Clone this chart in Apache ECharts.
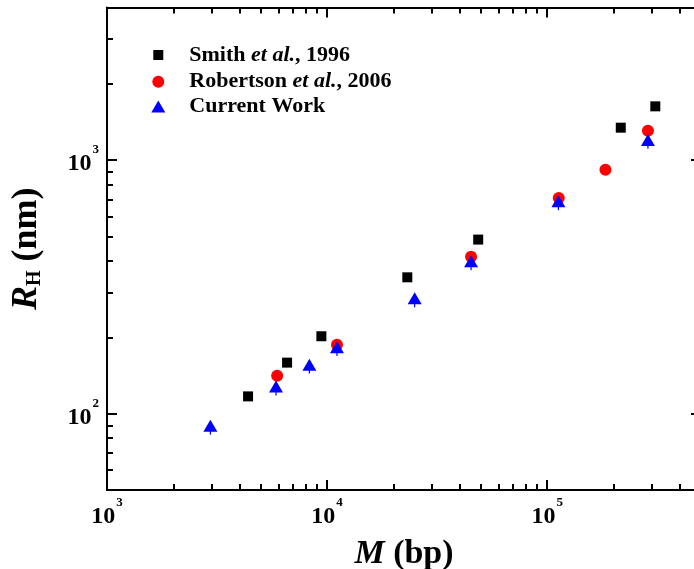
<!DOCTYPE html>
<html><head><meta charset="utf-8">
<script src="https://cdn.jsdelivr.net/npm/echarts@6/dist/echarts.min.js"></script>
<style>html,body{margin:0;padding:0;background:#fff}#c{width:694px;height:569px}</style>
</head><body><div id="c"></div>
<script>
// ---- data ----
const smithM = [4375, 6580, 9420, 23150, 48600, 216000, 310000];
const smithR = [117, 159, 202, 345, 486, 1343, 1630];
const robM = [5930, 11090, 45100, 112900, 184000, 287000];
const robR = [141, 187, 416, 709, 917, 1307];
const curM = [2950, 5860, 8310, 11090, 25000, 45100, 112500, 287000];
const curR = [89.7, 128, 156, 183, 285, 399, 688, 1201];
const curErr = [7, 10, 12, 14, 22, 31, 53, 93];
const seriesNames = ['Smith et al., 1996', 'Robertson et al., 2006', 'Current Work'];
const legendLabels = ['{b|Smith }{i|et al.}{b|, 1996}', '{b|Robertson }{i|et al.}{b|, 2006}', '{b|Current Work}'];
const xRange = [1000, 500000];
const yRange = [50, 4000];
const xMinorTicks = [2000,3000,4000,5000,6000,7000,8000,9000,20000,30000,40000,50000,60000,70000,80000,90000,200000,300000,400000];
const yMinorTicks = [60,70,80,90,200,300,400,500,600,700,800,900,2000,3000];

const FF = "'Liberation Serif','Times New Roman',serif";
const chart = echarts.init(document.getElementById('c'), null, {renderer: 'canvas'});

function pow10Label(v) {
  const e = Math.log10(v);
  if (Math.abs(e - Math.round(e)) > 1e-6) return '';
  return '{b|10}{s|' + Math.round(e) + '}';
}
const labelRich = {
  b: {fontFamily: FF, fontWeight: 'bold', fontSize: 24, lineHeight: 24, color: '#000', verticalAlign: 'bottom'},
  s: {fontFamily: FF, fontWeight: 'bold', fontSize: 13, lineHeight: 13, color: '#000', verticalAlign: 'bottom', padding: [0, 0, 20, 1]}
};
const lineSt = {color: '#000', width: 2};

function majorAxis(pos, labelOpt, extra) {
  return Object.assign({
    type: 'log', logBase: 10, position: pos,
    axisLine: {show: true, onZero: false, lineStyle: lineSt},
    axisTick: {show: true, inside: true, length: 10, lineStyle: lineSt},
    minorTick: {show: false},
    splitLine: {show: false},
    axisLabel: Object.assign({show: !!labelOpt, formatter: pow10Label, rich: labelRich, showMinLabel: true, showMaxLabel: true, hideOverlap: false}, labelOpt || {})
  }, extra);
}
function minorAxis(pos, range, ticks) {
  return {
    type: 'value', position: pos, min: Math.log10(range[0]), max: Math.log10(range[1]),
    axisLine: {show: false, onZero: false},
    axisTick: {show: true, inside: true, length: 6, lineStyle: lineSt, customValues: ticks.map(Math.log10)},
    axisLabel: {show: false}, splitLine: {show: false}
  };
}

const option = {
  backgroundColor: '#fff',
  animation: false,
  grid: {left: 107, right: -7, top: 7.5, bottom: 79, outerBoundsMode: 'none', containLabel: false},
  xAxis: [
    majorAxis('bottom', {margin: 15}, {min: xRange[0], max: xRange[1],
      name: '{i|M}{b| (bp)}', nameLocation: 'middle', nameGap: 47,
      nameTextStyle: {rich: {
        i: {fontFamily: FF, fontWeight: 'bold', fontStyle: 'italic', fontSize: 34, color: '#000'},
        b: {fontFamily: FF, fontWeight: 'bold', fontSize: 34, color: '#000'}}}}),
    majorAxis('top', null, {min: xRange[0], max: xRange[1]}),
    minorAxis('bottom', xRange, xMinorTicks),
    minorAxis('top', xRange, xMinorTicks)
  ],
  yAxis: [
    majorAxis('left', {margin: 8, padding: [8, 0, 0, 0]}, {min: yRange[0], max: yRange[1],
      name: '{i|R}{sub|H}{b| (nm)}', nameLocation: 'middle', nameGap: 62, nameRotate: 90,
      nameTextStyle: {rich: {
        i: {fontFamily: FF, fontWeight: 'bold', fontStyle: 'italic', fontSize: 36, lineHeight: 36, color: '#000', verticalAlign: 'bottom'},
        sub: {fontFamily: FF, fontWeight: 'bold', fontSize: 20, lineHeight: 20, color: '#000', verticalAlign: 'bottom'},
        b: {fontFamily: FF, fontWeight: 'bold', fontSize: 36, lineHeight: 36, color: '#000', verticalAlign: 'bottom'}}}}),
    majorAxis('right', null, {min: yRange[0], max: yRange[1]}),
    minorAxis('left', yRange, yMinorTicks),
    minorAxis('right', yRange, yMinorTicks)
  ],
  legend: [
    {data: [{name: seriesNames[0], icon: 'rect'}], left: 153.3, top: 44, itemWidth: 10, itemHeight: 10, sp: 21},
    {data: [{name: seriesNames[1], icon: 'circle'}], left: 152.3, top: 70.7, itemWidth: 12, itemHeight: 12, sp: 20},
    {data: [{name: seriesNames[2], icon: 'triangle'}], left: 151.3, top: 95.5, itemWidth: 14, itemHeight: 12, sp: 19}
  ].map(function (l, i) {
    return {
      data: l.data, left: l.left, top: l.top, itemWidth: l.itemWidth, itemHeight: l.itemHeight, padding: 0,
      selectedMode: false, orient: 'vertical',
      formatter: function () { return '{sp| }' + legendLabels[i]; },
      textStyle: {rich: {
        sp: {width: l.sp, fontSize: 10},
        b: {fontFamily: FF, fontWeight: 'bold', fontSize: 22, color: '#000'},
        i: {fontFamily: FF, fontWeight: 'bold', fontStyle: 'italic', fontSize: 22, color: '#000'}}}
    };
  }),
  series: [
    {name: seriesNames[0], type: 'scatter', xAxisIndex: 0, yAxisIndex: 0, symbol: 'rect', symbolSize: 10,
      itemStyle: {color: '#000', opacity: 1}, z: 2,
      data: smithM.map(function (m, i) { return [m, smithR[i]]; })},
    {name: seriesNames[1], type: 'scatter', xAxisIndex: 0, yAxisIndex: 0, symbol: 'circle', symbolSize: 12,
      itemStyle: {color: '#ff0000', opacity: 1}, z: 3,
      data: robM.map(function (m, i) { return [m, robR[i]]; })},
    {name: 'err', type: 'custom', xAxisIndex: 0, yAxisIndex: 0, z: 4, silent: true,
      renderItem: function (params, api) {
        const p0 = api.coord([api.value(0), api.value(1)]);
        const p1 = api.coord([api.value(0), api.value(1) - api.value(2)]);
        return {type: 'line', shape: {x1: p0[0], y1: p0[1], x2: p1[0], y2: p1[1]}, style: {stroke: '#0000ff', lineWidth: 1.2}};
      },
      data: curM.map(function (m, i) { return [m, curR[i], curErr[i]]; })},
    {name: seriesNames[2], type: 'scatter', xAxisIndex: 0, yAxisIndex: 0, symbol: 'triangle', symbolSize: [14, 12],
      itemStyle: {color: '#0000ff', opacity: 1}, z: 5,
      data: curM.map(function (m, i) { return [m, curR[i]]; })}
  ]
};
chart.setOption(option);
</script></body></html>
